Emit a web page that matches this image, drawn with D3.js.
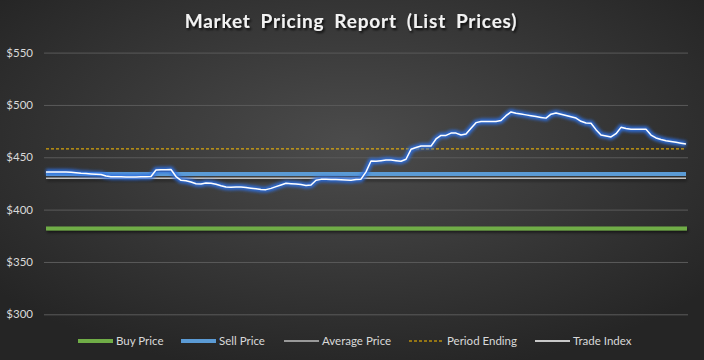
<!DOCTYPE html>
<html>
<head>
<meta charset="utf-8">
<script src="https://cdn.jsdelivr.net/npm/d3@7"></script>
<style>
  body { margin: 0; background: #262626; }
  svg { display: block; }
</style>
</head>
<body>
<div id="chart"></div>
<script>
var W = 704, H = 360;
var margin = { top: 53, right: 16, bottom: 46, left: 44 };

// chart values
var title = "Market Pricing Report (List Prices)";
var yTicks = [300, 350, 400, 450, 500, 550];
var buyPrice = 382;
var sellPrice = 434;
var averagePrice = 430;
var periodEnding = 458;
var tradeIndex = [
  435.9, 435.9, 435.9, 435.9, 435.9, 435.8, 435.2, 434.7, 434.4, 434.1,
  433.9, 433.6, 432.1, 431.5, 431.4, 431.3, 431.2, 431.1, 431.2, 431.3,
  431.5, 431.6, 437.8, 438.1, 438.0, 438.3, 431.6, 428.0, 427.5, 426.4,
  424.7, 424.4, 425.5, 425.2, 424.2, 422.8, 421.6, 421.4, 421.5, 421.6,
  421.2, 420.5, 419.9, 419.3, 419.1, 420.3, 422.0, 423.6, 425.2, 424.8,
  424.5, 423.9, 423.1, 423.5, 428.0, 428.9, 428.9, 428.8, 428.7, 428.6,
  428.3, 428.1, 428.7, 429.1, 436.1, 446.4, 446.1, 446.7, 447.4, 447.3,
  446.7, 446.2, 448.1, 457.6, 459.3, 460.7, 460.7, 460.7, 467.5, 470.9,
  470.9, 473.1, 473.1, 471.3, 472.3, 477.7, 483.1, 484.1, 484.1, 484.1,
  484.1, 485.1, 489.7, 493.3, 492.1, 491.3, 490.5, 489.7, 488.9, 488.1,
  487.4, 491.2, 492.3, 491.2, 490.0, 488.7, 487.5, 484.4, 482.8, 482.5,
  476.4, 471.3, 470.4, 469.4, 472.5, 478.6, 477.5, 476.7, 476.7, 476.7,
  476.7, 471.2, 468.5, 467.0, 465.8, 465.1, 464.3, 463.5, 462.7
];
var legendNames = ["Buy Price", "Sell Price", "Average Price", "Period Ending", "Trade Index"];
var colors = {
  buy: "#70ad47",
  sell: "#5b9bd5",
  avg: "#bfbfbf",
  period: "#ffc000",
  trade: "#ffffff"
};

var svg = d3.select("#chart").append("svg")
    .attr("width", W)
    .attr("height", H);

var defs = svg.append("defs");

var bg = defs.append("radialGradient")
    .attr("id", "bg")
    .attr("cx", "50%").attr("cy", "40%").attr("r", "65%");
bg.append("stop").attr("offset", "0%").attr("stop-color", "#4c4c4c");
bg.append("stop").attr("offset", "100%").attr("stop-color", "#252525");

// filters in user space so flat horizontal lines keep a non-zero region
var shadow = defs.append("filter").attr("id", "shadow")
    .attr("filterUnits", "userSpaceOnUse")
    .attr("x", 0).attr("y", 0).attr("width", W).attr("height", H);
shadow.append("feDropShadow")
    .attr("dx", 1).attr("dy", 2).attr("stdDeviation", 1.5)
    .attr("flood-color", "#000").attr("flood-opacity", 0.6);

var glow = defs.append("filter").attr("id", "glow")
    .attr("filterUnits", "userSpaceOnUse")
    .attr("x", 0).attr("y", 0).attr("width", W).attr("height", H);
glow.append("feGaussianBlur").attr("stdDeviation", 1.6);

var titleShadow = defs.append("filter").attr("id", "tshadow");
titleShadow.append("feDropShadow")
    .attr("dx", 1.5).attr("dy", 2).attr("stdDeviation", 1)
    .attr("flood-color", "#000").attr("flood-opacity", 0.8);

svg.append("rect")
    .attr("width", W).attr("height", H)
    .attr("fill", "url(#bg)");

svg.append("text")
    .attr("x", 351)
    .attr("y", 28)
    .attr("text-anchor", "middle")
    .attr("font-family", "Lato, 'Open Sans', sans-serif")
    .attr("font-weight", "bold")
    .attr("font-size", 19)
    .attr("word-spacing", 4.5)
    .attr("letter-spacing", 0.8)
    .attr("fill", "#f2f2f2")
    .attr("filter", "url(#tshadow)")
    .text(title);

var x = d3.scaleLinear()
    .domain([0, tradeIndex.length - 1])
    .range([46, 686]);

var y = d3.scaleLinear()
    .domain([300, 550])
    .range([314.3, 52.6]);

var plotW = W - margin.left - margin.right;

var yAxis = d3.axisLeft(y)
    .tickValues(yTicks)
    .tickSize(-plotW)
    .tickPadding(11)
    .tickFormat(function(d){ return "$" + d; });

var yAxisG = svg.append("g")
    .attr("transform", "translate(" + margin.left + ",0)")
    .call(yAxis);
yAxisG.select(".domain").remove();
yAxisG.selectAll("line")
    .attr("stroke", "#5a5a5a")
    .attr("stroke-width", 1);
yAxisG.selectAll("text")
    .attr("fill", "#d9d9d9")
    .attr("font-family", "Lato, 'Open Sans', sans-serif")
    .attr("font-size", 11.5);

var x0 = x(0), x1 = x(tradeIndex.length - 1);

// Buy price
svg.append("line")
    .attr("x1", x0).attr("x2", x1 + 1)
    .attr("y1", y(buyPrice)).attr("y2", y(buyPrice))
    .attr("stroke", colors.buy)
    .attr("stroke-width", 4)
    .attr("filter", "url(#shadow)");

// Average price
svg.append("line")
    .attr("x1", x0).attr("x2", x1)
    .attr("y1", y(averagePrice)).attr("y2", y(averagePrice))
    .attr("stroke", colors.avg)
    .attr("stroke-width", 1.5)
    .attr("filter", "url(#shadow)");

// Sell price
svg.append("line")
    .attr("x1", x0).attr("x2", x1)
    .attr("y1", y(sellPrice)).attr("y2", y(sellPrice))
    .attr("stroke", colors.sell)
    .attr("stroke-width", 4);

// Period ending
svg.append("line")
    .attr("x1", x0).attr("x2", x1)
    .attr("y1", y(periodEnding)).attr("y2", y(periodEnding))
    .attr("stroke", colors.period)
    .attr("stroke-width", 1)
    .attr("stroke-dasharray", "3,2");

// Trade index with blue glow
var line = d3.line()
    .x(function(d, i){ return x(i); })
    .y(function(d){ return y(d); });

svg.append("path")
    .datum(tradeIndex)
    .attr("d", line)
    .attr("fill", "none")
    .attr("stroke", "#2f6fe0")
    .attr("stroke-width", 6)
    .attr("stroke-linejoin", "round")
    .attr("opacity", 0.9)
    .attr("filter", "url(#glow)");

svg.append("path")
    .datum(tradeIndex)
    .attr("d", line)
    .attr("fill", "none")
    .attr("stroke", colors.trade)
    .attr("stroke-width", 1.5)
    .attr("stroke-linejoin", "round");

// legend
var legendX = [78, 181, 284, 409, 535];
var legendStyle = [
  { c: colors.buy, w: 4, dash: null },
  { c: colors.sell, w: 4, dash: null },
  { c: colors.avg, w: 1.5, dash: null },
  { c: colors.period, w: 1, dash: "3,2" },
  { c: colors.trade, w: 1.5, dash: null }
];
var ly = 341;
var legend = svg.append("g").selectAll("g")
    .data(legendNames)
    .enter().append("g")
    .attr("transform", function(d, i){ return "translate(" + legendX[i] + "," + ly + ")"; });

legend.append("line")
    .attr("x1", 0).attr("x2", 35)
    .attr("y1", 0).attr("y2", 0)
    .attr("stroke", function(d, i){ return legendStyle[i].c; })
    .attr("stroke-width", function(d, i){ return legendStyle[i].w; })
    .attr("stroke-dasharray", function(d, i){ return legendStyle[i].dash; });

legend.append("text")
    .attr("x", 38)
    .attr("y", 4)
    .attr("fill", "#d9d9d9")
    .attr("font-family", "Lato, 'Open Sans', sans-serif")
    .attr("font-size", 11.5)
    .text(function(d){ return d; });
</script>
</body>
</html>
